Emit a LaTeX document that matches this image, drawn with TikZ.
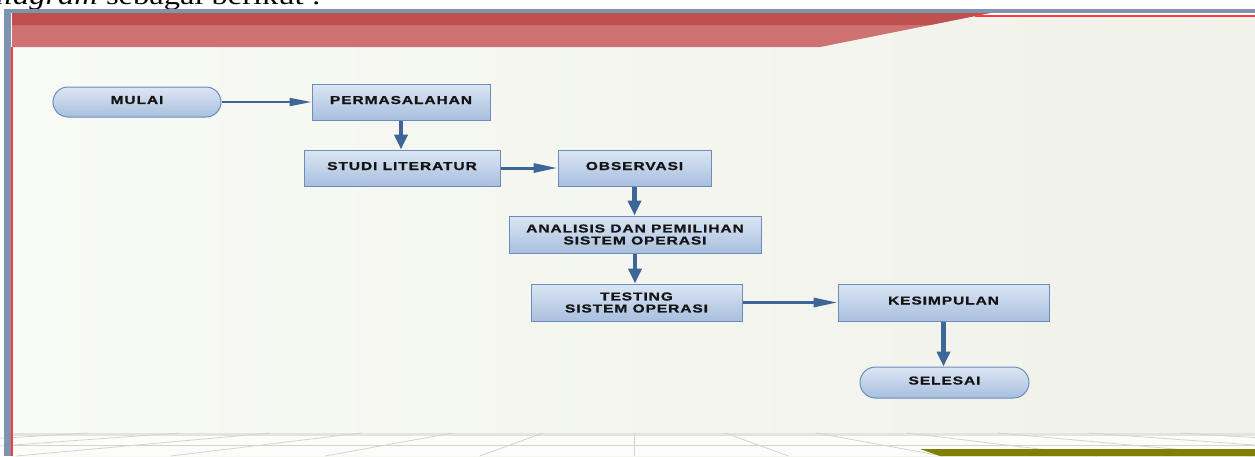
\documentclass[tikz,border=0pt]{standalone}
\usepackage{fontspec}
\usepackage{graphicx}
\setmainfont{Liberation Serif}
\newfontfamily\lab[FakeStretch=1.35,LetterSpace=8,FakeBold=1]{Liberation Sans}
\usetikzlibrary{arrows.meta}
\definecolor{frameblue}{HTML}{7F93B0}
\definecolor{reddark}{HTML}{C0504D}
\definecolor{redlight}{HTML}{CD7270}
\definecolor{redline}{HTML}{FF3B3B}
\definecolor{bgleft}{HTML}{F8FAF5}
\definecolor{bgright}{HTML}{F0F1E9}
\definecolor{floorband}{HTML}{E4E4DE}
\definecolor{floorline}{HTML}{D4D4CE}
\definecolor{olive}{HTML}{808000}
\definecolor{boxtop}{HTML}{DCE6F4}
\definecolor{boxbot}{HTML}{A8BFDE}
\definecolor{boxedge}{HTML}{6A8CBE}
\definecolor{arrowblue}{HTML}{3E6597}
\definecolor{labtext}{HTML}{141414}
\tikzset{
  labfont/.style={font=\lab\bfseries\fontsize{11.5}{12}\selectfont, text=labtext},
  procbox/.style={rectangle, draw=boxedge, line width=1pt, top color=boxtop, bottom color=boxbot,
    inner sep=0pt, align=center, labfont},
  oneline/.style={text depth=4pt},
  termbox/.style={procbox, rounded corners=15pt},
  thinarrow/.style={draw=arrowblue, line width=2pt, -{Triangle[length=22pt,width=8pt]}},
  medarrow/.style={draw=arrowblue, line width=3pt, -{Triangle[length=24pt,width=9pt]}},
  fatarrow/.style={draw=arrowblue, line width=4.5pt, -{Triangle[length=15pt,width=13pt]}},
  floorray/.style={draw=floorline, line width=0.8pt}
}
\begin{document}
\begin{tikzpicture}[x=1pt,y=-1pt]
\useasboundingbox (0,0) rectangle (1255,456);
\clip (0,0) rectangle (1255,456);
% page
\fill[white] (0,0) rectangle (1255,456);
% caption fragment at the top
\node[anchor=base east, inner sep=0pt, font=\fontsize{26}{26}\selectfont] (caption) at (321,4)
  {\scalebox{1.25}[1]{\textit{diagram} sebagai berikut :}};
% slide background
\shade[left color=bgleft, right color=bgright] (11,12) rectangle (1255,456);
\fill[white] (11,12) rectangle (1255,15);
% floor
\fill[floorband] (12,433) rectangle (1255,435.5);
\fill[white!60!bgleft] (12,435.5) rectangle (1255,456);
\draw[floorray] (12,445) -- (1255,445);
\draw[floorray] (634,433) -- (634,456);
\foreach \k in {-7,...,-1,1,2,...,7}{
  \draw[floorray] ({634+91*\k},433) -- ({634+91*\k*1.697},456);
}
\fill[olive] (920,449) -- (1255,449) -- (1255,456) -- (940,456) -- cycle;
% red banner
\fill[redlight] (12,13) -- (990,13) -- (820,47) -- (12,47) -- cycle;
\fill[reddark] (12,13) -- (990,13) -- (930,25) -- (12,25) -- cycle;
\draw[redline, line width=1.2pt] (975,16) -- (1255,16);
\draw[redline, line width=1.2pt] (12,47) -- (12,456);
% frame
\fill[frameblue] (4,9) rectangle (1255,12.5);
\fill[frameblue] (4,9) rectangle (11,456);

% nodes
\node[termbox, oneline, minimum width=168pt, minimum height=30pt] (mulai) at (137,102) {MULAI};
\node[procbox, oneline, minimum width=178pt, minimum height=36pt] (perm) at (401,102) {PERMASALAHAN};
\node[procbox, oneline, minimum width=196pt, minimum height=36pt] (studi) at (402,168) {STUDI LITERATUR};
\node[procbox, oneline, minimum width=153pt, minimum height=36pt] (obs) at (634.5,168) {OBSERVASI};
\node[procbox, minimum width=252pt, minimum height=37pt] (anal) at (635,234.5) {ANALISIS DAN PEMILIHAN\\SISTEM OPERASI};
\node[procbox, minimum width=211pt, minimum height=37pt] (test) at (636.5,302.5) {TESTING\\SISTEM OPERASI};
\node[procbox, oneline, minimum width=211pt, minimum height=37pt] (kes) at (943.5,302.5) {KESIMPULAN};
\node[termbox, oneline, minimum width=169pt, minimum height=31pt, rounded corners=15.5pt] (sel) at (944.5,382.5) {SELESAI};

% connectors
\draw[thinarrow] (mulai) -- (perm);
\draw[fatarrow] (perm.south) -- (perm.south |- studi.north);
\draw[medarrow] (studi) -- (obs);
\draw[fatarrow] (obs.south) -- (obs.south |- anal.north);
\draw[fatarrow] (anal.south) -- (anal.south |- test.north);
\draw[medarrow] (test) -- (kes);
\draw[fatarrow] (kes.south) -- (kes.south |- sel.north);
\end{tikzpicture}
\end{document}
